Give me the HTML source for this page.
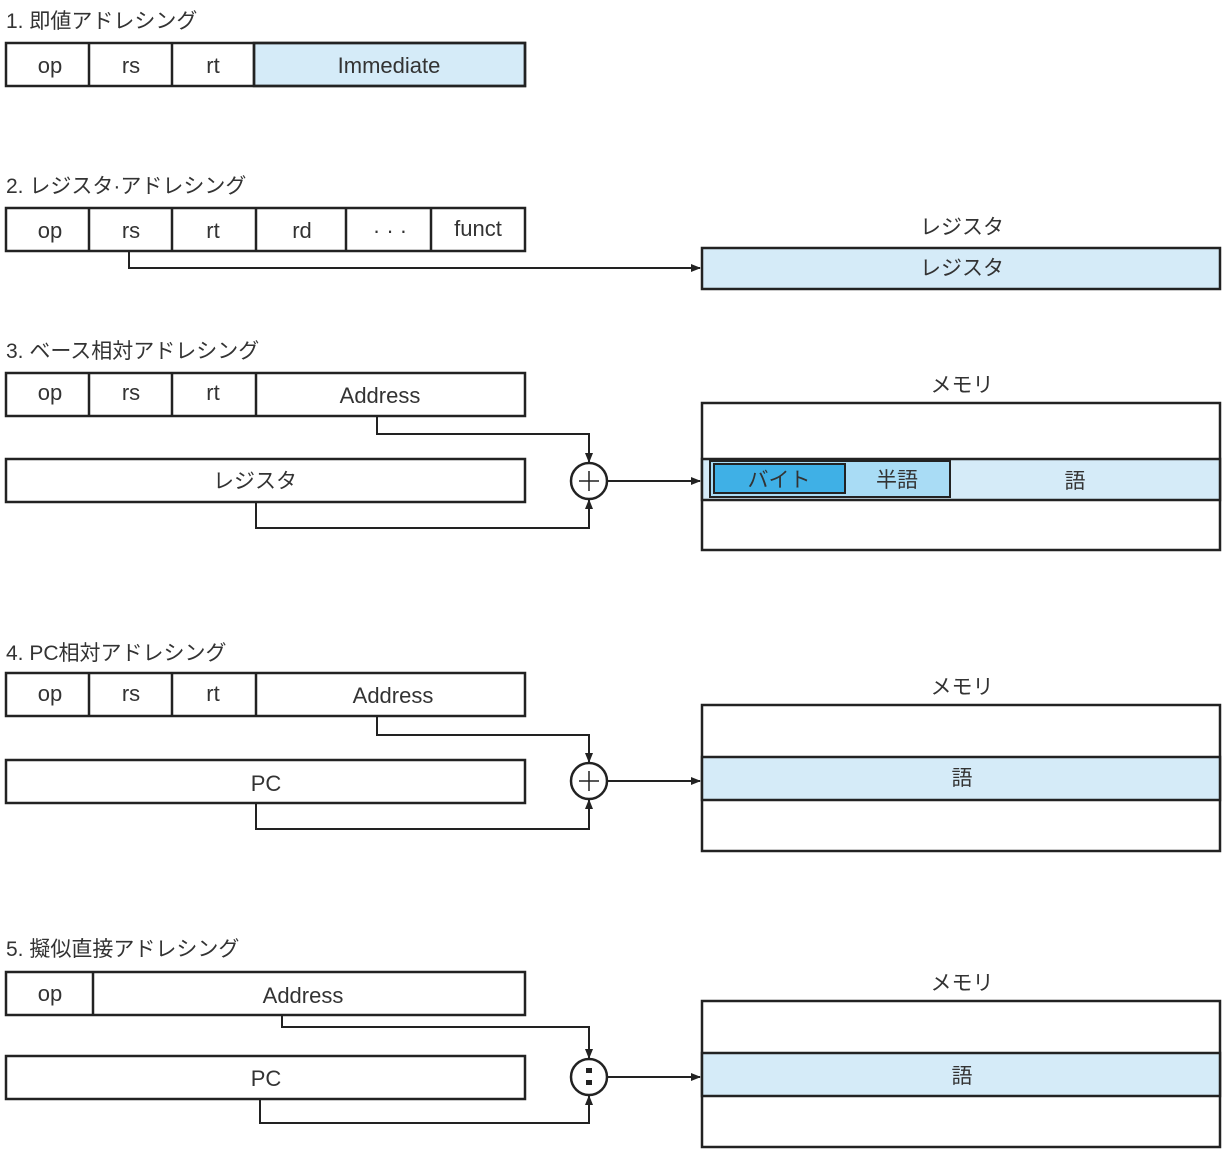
<!DOCTYPE html>
<html><head><meta charset="utf-8"><style>
body{margin:0;background:#fff}
svg text{font-family:"Liberation Sans","Noto Sans CJK JP",sans-serif;fill:#333}
</style></head><body>
<svg width="1230" height="1154" viewBox="0 0 1230 1154" xmlns="http://www.w3.org/2000/svg">
<defs><marker id="a" markerWidth="10" markerHeight="10" refX="9" refY="5" orient="auto" markerUnits="userSpaceOnUse"><path d="M0,1 L10,5 L0,9z" fill="#222"/></marker></defs>
<g font-size="21">
<text x="6" y="28">1. 即値アドレシング</text>
<text x="6" y="193">2. レジスタ·アドレシング</text>
<text x="6" y="358">3. ベース相対アドレシング</text>
<text x="6" y="660">4. PC相対アドレシング</text>
<text x="6" y="956">5. 擬似直接アドレシング</text>
</g>
<g stroke="#222" stroke-width="2.5" fill="none">
<!-- sec1 -->
<rect x="254" y="43" width="271" height="43" fill="#d5ebf8"/>
<rect x="6" y="43" width="519" height="43"/>
<path d="M89 43V86M172 43V86M254 43V86"/>
<!-- sec2 -->
<rect x="6" y="208" width="519" height="43"/>
<path d="M89 208V251M172 208V251M256 208V251M346 208V251M431 208V251"/>
<rect x="702" y="248" width="518" height="41" fill="#d5ebf8"/>
<path d="M129 251V268H700" marker-end="url(#a)" stroke-width="2"/>
<!-- sec3 -->
<rect x="6" y="373" width="519" height="43"/>
<path d="M89 373V416M172 373V416M256 373V416"/>
<rect x="6" y="459" width="519" height="43"/>
<rect x="702" y="403" width="518" height="147"/>
<rect x="702" y="459" width="518" height="41" fill="#d5ebf8"/>
<rect x="710" y="461" width="240" height="36" fill="#a9dcf5" stroke-width="2"/>
<rect x="714" y="464" width="131" height="29" fill="#3fb0e6" stroke-width="2"/>
<path d="M377 416V434H589V462" marker-end="url(#a)" stroke-width="2"/>
<path d="M256 502V528H589V500" marker-end="url(#a)" stroke-width="2"/>
<circle cx="589" cy="481" r="18" fill="#fff"/>
<path d="M579 481H599M589 471V491" stroke-width="1.5"/>
<path d="M607 481H700" marker-end="url(#a)" stroke-width="2"/>
<!-- sec4 -->
<rect x="6" y="673" width="519" height="43"/>
<path d="M89 673V716M172 673V716M256 673V716"/>
<rect x="6" y="760" width="519" height="43"/>
<rect x="702" y="705" width="518" height="146"/>
<rect x="702" y="757" width="518" height="43" fill="#d5ebf8"/>
<path d="M377 716V735H589V762" marker-end="url(#a)" stroke-width="2"/>
<path d="M256 803V829H589V800" marker-end="url(#a)" stroke-width="2"/>
<circle cx="589" cy="781" r="18" fill="#fff"/>
<path d="M579 781H599M589 771V791" stroke-width="1.5"/>
<path d="M607 781H700" marker-end="url(#a)" stroke-width="2"/>
<!-- sec5 -->
<rect x="6" y="972" width="519" height="43"/>
<path d="M93 972V1015"/>
<rect x="6" y="1056" width="519" height="43"/>
<rect x="702" y="1001" width="518" height="146"/>
<rect x="702" y="1053" width="518" height="43" fill="#d5ebf8"/>
<path d="M282 1015V1027H589V1058" marker-end="url(#a)" stroke-width="2"/>
<path d="M260 1099V1123H589V1096" marker-end="url(#a)" stroke-width="2"/>
<circle cx="589" cy="1077" r="18" fill="#fff"/>
<path d="M607 1077H700" marker-end="url(#a)" stroke-width="2"/>
</g>
<rect x="586" y="1068" width="6" height="5" fill="#222"/>
<rect x="586" y="1080" width="6" height="5" fill="#222"/>
<g font-size="22" text-anchor="middle">
<text x="50" y="73">op</text><text x="131" y="73">rs</text><text x="213" y="73">rt</text><text x="389" y="73">Immediate</text>
<text x="50" y="238">op</text><text x="131" y="238">rs</text><text x="213" y="238">rt</text><text x="302" y="238">rd</text><text x="390" y="238">· · ·</text><text x="478" y="236">funct</text>
<text x="962" y="234" font-size="21">レジスタ</text><text x="962" y="275" font-size="21">レジスタ</text>
<text x="50" y="400">op</text><text x="131" y="400">rs</text><text x="213" y="400">rt</text><text x="380" y="403">Address</text>
<text x="255" y="488" font-size="21">レジスタ</text>
<text x="962" y="392" font-size="21">メモリ</text>
<text x="779" y="487" font-size="21">バイト</text><text x="897" y="487" font-size="21">半語</text><text x="1075" y="488" font-size="21">語</text>
<text x="50" y="701">op</text><text x="131" y="701">rs</text><text x="213" y="701">rt</text><text x="393" y="703">Address</text>
<text x="266" y="791">PC</text>
<text x="962" y="694" font-size="21">メモリ</text><text x="962" y="785" font-size="21">語</text>
<text x="50" y="1001">op</text><text x="303" y="1003">Address</text>
<text x="266" y="1086">PC</text>
<text x="962" y="990" font-size="21">メモリ</text><text x="962" y="1083" font-size="21">語</text>
</g>
</svg>
</body></html>
